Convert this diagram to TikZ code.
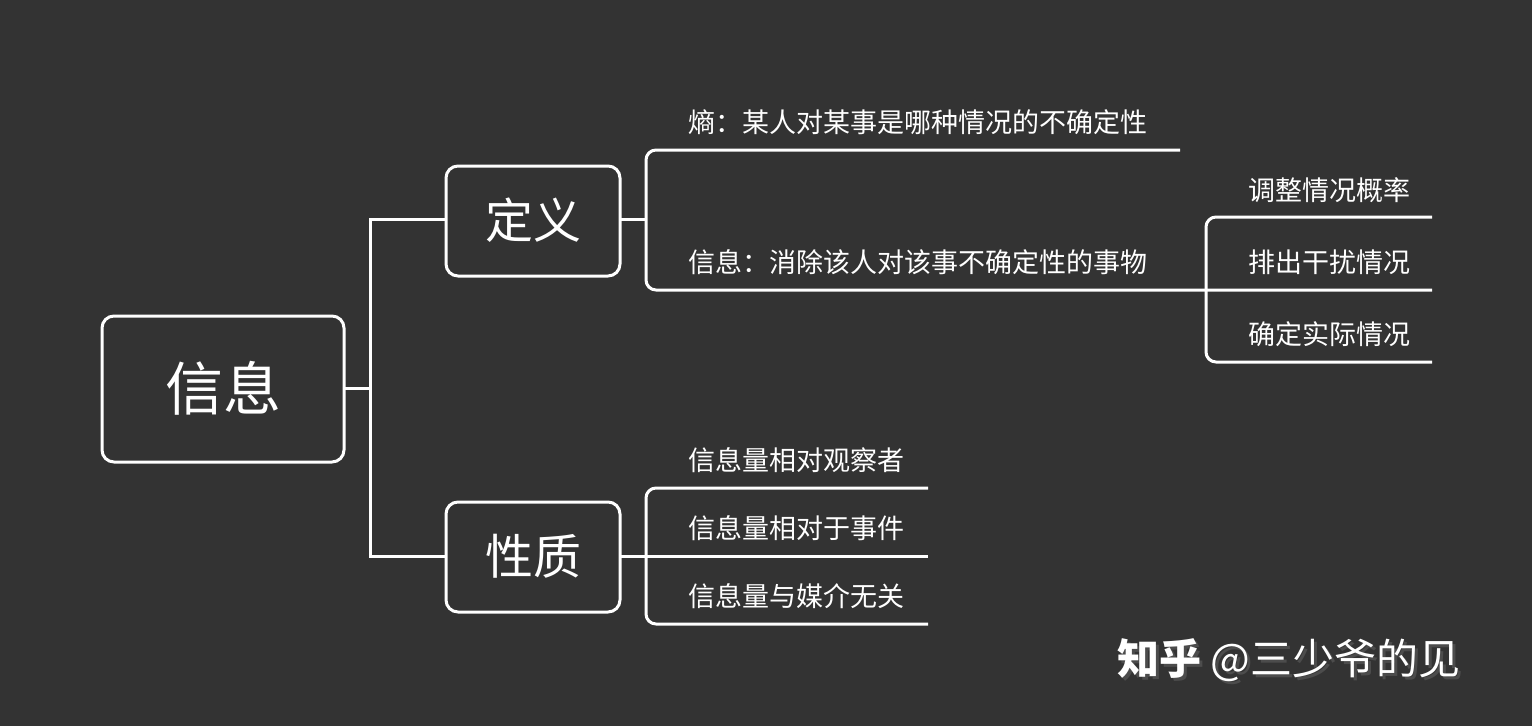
\documentclass[tikz,border=0pt]{standalone}
\usepackage{fontspec}
\setmainfont{Noto Sans CJK SC}
\begin{document}
\begin{tikzpicture}[x=1pt,y=-1pt,
  ln/.style={draw=white,line width=3pt},
  box/.style={ln,rounded corners=12pt,fill=none},
  lbl/.style={text=white,anchor=west,font=\fontsize{27}{30}\selectfont,inner sep=0pt}]
\fill[fill={rgb,255:red,51;green,51;blue,51}] (0,0) rectangle (1532,726);
\useasboundingbox (0,0) rectangle (1532,726);
\draw[box] (102,316) rectangle (344,462);
\node[text=white,font=\fontsize{58}{62}\selectfont] (xx) at (223,388) {信息};
\draw[box] (446,166) rectangle (620,276);
\node[text=white,font=\fontsize{48}{52}\selectfont] (dy) at (533,220) {定义};
\draw[box] (446,502) rectangle (620,612);
\node[text=white,font=\fontsize{48}{52}\selectfont] (xz) at (533,556) {性质};
\draw[ln] (344,388) -- (370,388);
\draw[ln] (446,219) -- (370,219) -- (370,556) -- (446,556);
\draw[ln] (620,219) -- (646,219);
\draw[ln,rounded corners=10pt] (1180,150) -- (646,150) -- (646,290) -- (1432,290);
\draw[ln,rounded corners=10pt] (1432,217) -- (1206,217) -- (1206,362) -- (1432,362);
\draw[ln] (620,556) -- (928,556);
\draw[ln,rounded corners=10pt] (928,488) -- (646,488) -- (646,624) -- (928,624);
\node[lbl] (a1) at (688,122) {熵：某人对某事是哪种情况的不确定性};
\node[lbl] (a2) at (688,262) {信息：消除该人对该事不确定性的事物};
\node[lbl] (b1) at (1248,190) {调整情况概率};
\node[lbl] (b2) at (1248,262) {排出干扰情况};
\node[lbl] (b3) at (1248,334) {确定实际情况};
\node[lbl] (c1) at (688,460) {信息量相对观察者};
\node[lbl] (c2) at (688,528) {信息量相对于事件};
\node[lbl] (c3) at (688,596) {信息量与媒介无关};
\node[text=black!70,anchor=west,font=\fontsize{42}{46}\selectfont,inner sep=0pt] at (1120,663) {\textbf{知乎} @三少爷的见};
\node[text=white,anchor=west,font=\fontsize{42}{46}\selectfont,inner sep=0pt] (wm) at (1117,660) {\textbf{知乎} @三少爷的见};
\end{tikzpicture}
\end{document}
